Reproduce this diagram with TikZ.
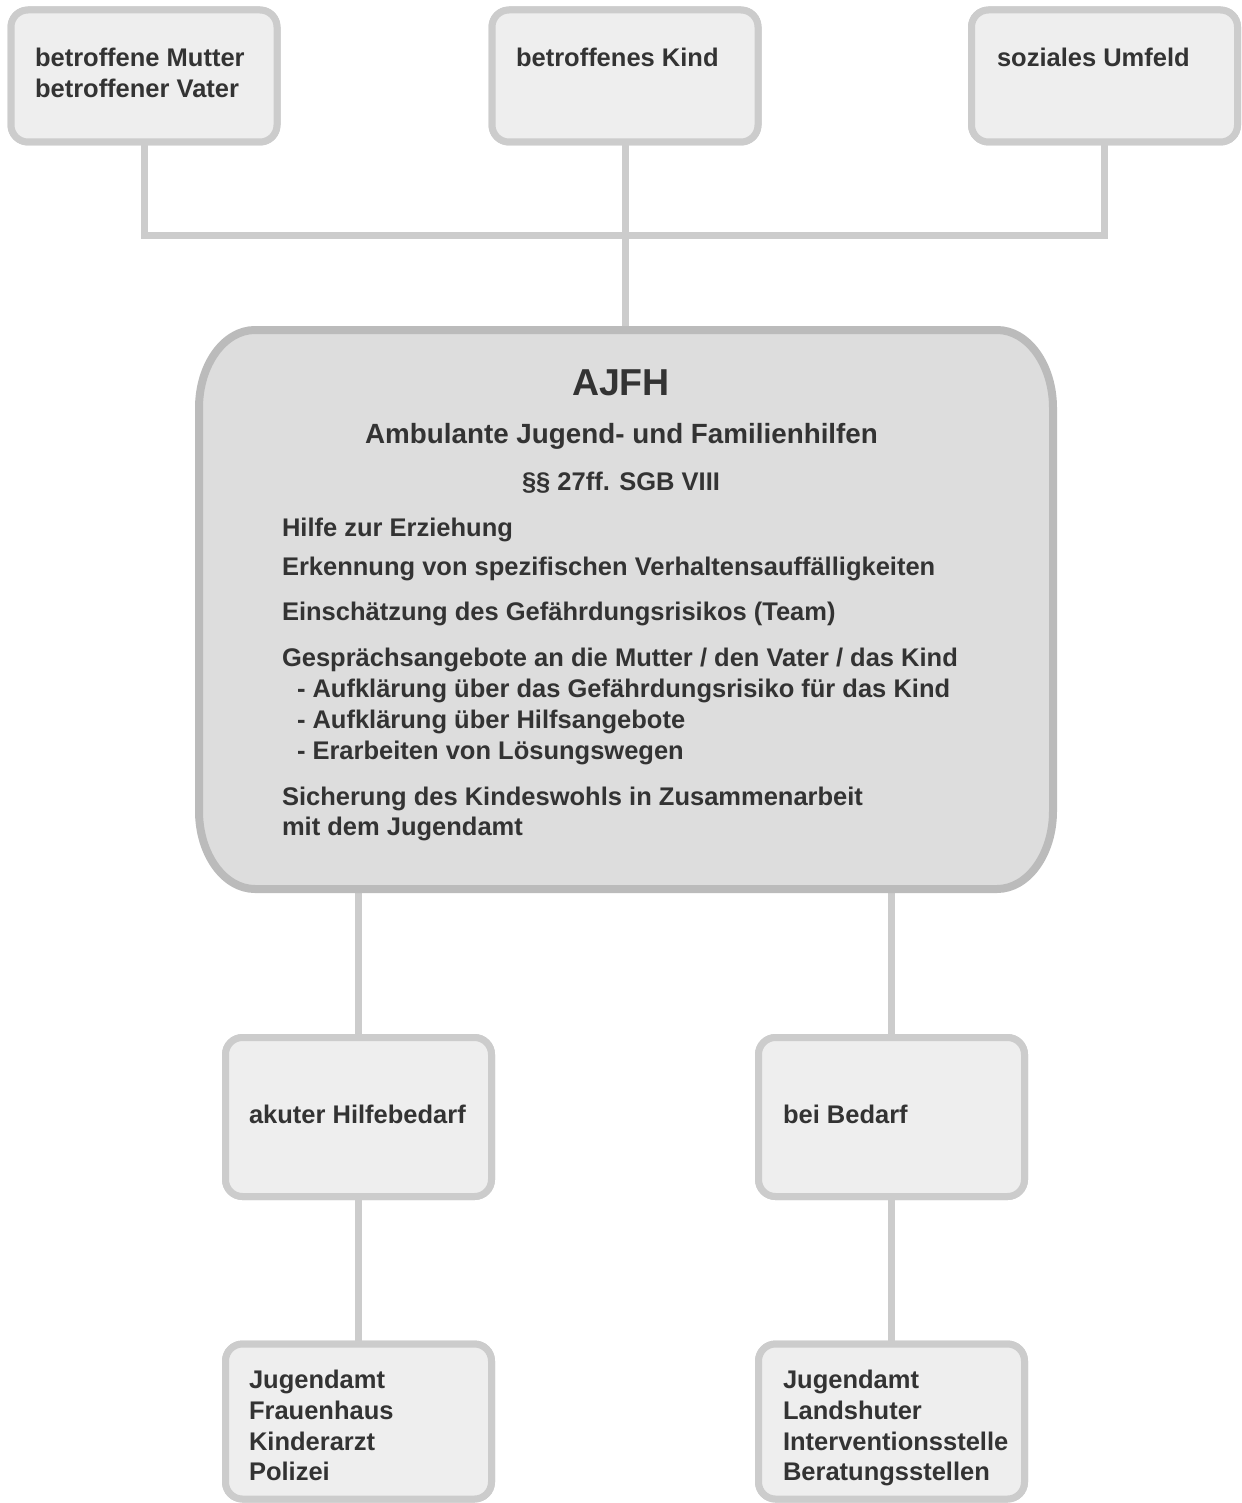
\documentclass[tikz,border=0pt]{standalone}
\usepackage{fontspec}
\setmainfont{Liberation Sans}
\begin{document}
\begin{tikzpicture}[x=1pt,y=-1pt,
  txt/.style={inner sep=0pt,outer sep=0pt,anchor=base west,text=textgray,
    font=\bfseries\fontsize{25.5}{31}\selectfont},
  ctxt/.style={txt,anchor=base},
  smallbox/.style={draw=boxline,fill=boxfill,line width=7pt,rounded corners=17pt,
    inner sep=0pt,minimum width=266pt},
  link/.style={draw=boxline,line width=7pt}]
\definecolor{textgray}{HTML}{333333}
\definecolor{boxline}{HTML}{CCCCCC}
\definecolor{boxfill}{HTML}{EEEEEE}
\definecolor{mainline}{HTML}{BBBBBB}
\definecolor{mainfill}{HTML}{DDDDDD}
\useasboundingbox (0,0) rectangle (1241,1503);

% invisible frame of the central block, used by the connectors
\node[inner sep=0pt,outer sep=0pt,minimum width=854pt,minimum height=559pt] (ajfh) at (626,609.5) {};

% top row
\node[smallbox,minimum height=132pt] (tl) at (144,76) {};
\node[smallbox,minimum height=132pt] (tm) at (625,76) {};
\node[smallbox,minimum height=132pt] (tr) at (1104.5,76) {};
\coordinate (bus) at (625,236);

% middle row
\node[smallbox,minimum height=159pt] (ml) at (358.5,1117) {};
\node[smallbox,minimum height=159pt] (mr) at (891.5,1117) {};

% bottom row
\node[smallbox,minimum height=155pt] (bl) at (358.5,1421.5) {};
\node[smallbox,minimum height=155pt] (br) at (891.5,1421.5) {};

% connectors
\path[link] (tl.south) |- (bus) -| (tr.south);
\path[link] (tm.south) -- (tm.south |- ajfh.north);
\path[link] (ajfh.south -| ml.north) -- (ml.north);
\path[link] (ajfh.south -| mr.north) -- (mr.north);
\path[link] (ml.south) -- (bl.north);
\path[link] (mr.south) -- (br.north);

% redraw boxes over the connector ends
\node[smallbox,minimum height=132pt] at (tl) {};
\node[smallbox,minimum height=132pt] at (tm) {};
\node[smallbox,minimum height=132pt] at (tr) {};
\node[smallbox,minimum height=159pt] at (ml) {};
\node[smallbox,minimum height=159pt] at (mr) {};
\node[smallbox,minimum height=155pt] at (bl) {};
\node[smallbox,minimum height=155pt] at (br) {};

% central block with elliptical corners
\draw[draw=mainline,fill=mainfill,line width=8pt]
  (199,408) arc[start angle=180,end angle=270,x radius=56,y radius=78]
  -- (997,330) arc[start angle=270,end angle=360,x radius=56,y radius=78]
  -- (1053,811) arc[start angle=0,end angle=90,x radius=56,y radius=78]
  -- (255,889) arc[start angle=90,end angle=180,x radius=56,y radius=78]
  -- cycle;

% texts of the top row
\node[txt] (t1a) at (35,67) {betroffene Mutter};
\node[txt] (t1b) at (35,98) {betroffener Vater};
\node[txt] (t2) at (516,67) {betroffenes Kind};
\node[txt] (t3) at (997,67) {soziales Umfeld};

% texts of the central block
\node[ctxt,font=\bfseries\fontsize{37.5}{44}\selectfont] (c0) at (621,395) {AJFH};
\node[ctxt,font=\bfseries\fontsize{27.8}{33}\selectfont] (c1) at (621.5,443) {Ambulante Jugend- und Familienhilfen};
\node[ctxt] (c2) at (621,490) {§§ 27ff. SGB VIII};
\node[txt] (c3) at (282,536) {Hilfe zur Erziehung};
\node[txt] (c4) at (282,575) {Erkennung von spezifischen Verhaltensauffälligkeiten};
\node[txt] (c5) at (282,620) {Einschätzung des Gefährdungsrisikos (Team)};
\node[txt] (c6) at (282,666) {Gesprächsangebote an die Mutter / den Vater / das Kind};
\node[txt] (c7) at (297,697) {- Aufklärung über das Gefährdungsrisiko für das Kind};
\node[txt] (c8) at (297,728) {- Aufklärung über Hilfsangebote};
\node[txt] (c9) at (297,759) {- Erarbeiten von Lösungswegen};
\node[txt] (c10) at (282,805) {Sicherung des Kindeswohls in Zusammenarbeit};
\node[txt] (c11) at (282,835) {mit dem Jugendamt};

% texts of the middle row
\node[txt] (m1) at (249,1123) {akuter Hilfebedarf};
\node[txt] (m2) at (783,1123) {bei Bedarf};

% texts of the bottom row
\node[txt] (b1a) at (249,1388) {Jugendamt};
\node[txt] (b1b) at (249,1419) {Frauenhaus};
\node[txt] (b1c) at (249,1450) {Kinderarzt};
\node[txt] (b1d) at (249,1480) {Polizei};
\node[txt] (b2a) at (783,1388) {Jugendamt};
\node[txt] (b2b) at (783,1419) {Landshuter};
\node[txt] (b2c) at (783,1450) {Interventionsstelle};
\node[txt] (b2d) at (783,1480) {Beratungsstellen};
\end{tikzpicture}
\end{document}
